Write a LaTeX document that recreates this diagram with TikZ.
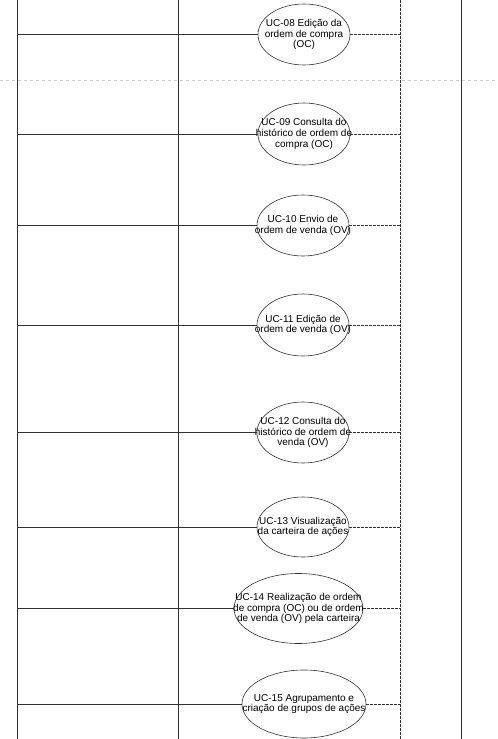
\documentclass[tikz,border=0pt]{standalone}
\usepackage{fontspec}
\setmainfont{Liberation Sans}
\usepackage{tikz}
\usetikzlibrary{shapes,positioning,arrows}
\tikzstyle{usecase} = [ellipse, draw=black!80, fill=white, line width=0.6pt, inner sep=0pt]
\tikzstyle{caption} = [align=center, inner sep=0pt, font=\fontsize{10}{10.7}\selectfont]
\tikzstyle{link} = [black!80, line width=0.7pt]
\tikzstyle{dep} = [black!80, line width=0.7pt, dash pattern=on 2.5pt off 1.5pt]
\tikzstyle{lane} = [black!80, line width=0.7pt]
\newcommand{\drawCase}[6]{
  \def\actorX{17.5};
  \def\depX{400};
  \node[usecase, minimum width=#4, minimum height=#5,
        label={[caption]center:#6}] (#1) at (#2,#3) {};
  % actor side
  \coordinate (#1l) at (\actorX,#3);
  \draw[link] (#1l) -- (#1.west);
  % dependency side
  \coordinate (#1r) at (\depX,#3);
  \draw[dep] (#1.east) -- (#1r);
}

\begin{document}
\begin{tikzpicture}[x=1pt,y=-1pt]
      \useasboundingbox (0,0) rectangle (498,739);
      % page break
      \coordinate (pageL) at (0,80);
      \coordinate (pageR) at (498,80);
      \draw[black!20, line width=0.7pt, dash pattern=on 3pt off 3pt] (pageL) -- (pageR);

      % lanes
      \coordinate (actorTop) at (17.5,0);
      \coordinate (actorBot) at (17.5,739);
      \coordinate (sysTop) at (178,0);
      \coordinate (sysBot) at (178,739);
      \coordinate (depTop) at (400,0);
      \coordinate (depBot) at (400,739);
      \coordinate (extTop) at (461.5,0);
      \coordinate (extBot) at (461.5,739);
      \draw[lane] (actorTop) -- (actorBot);
      \draw[lane] (sysTop) -- (sysBot);
      \draw[dep] (depTop) -- (depBot);
      \draw[lane] (extTop) -- (extBot);

      \drawCase{uc08}{304}{34.5}{92pt}{61pt}{UC-08 Edição da\\ordem de compra\\(OC)}
      \drawCase{uc09}{304}{134}{92pt}{62pt}{UC-09 Consulta do\\histórico de ordem de\\compra (OC)}
      \drawCase{uc10}{303}{225.5}{92pt}{61pt}{UC-10 Envio de\\ordem de venda (OV)}
      \drawCase{uc11}{303}{325}{92pt}{62pt}{UC-11 Edição de\\ordem de venda (OV)}
      \drawCase{uc12}{303}{432.5}{92pt}{61pt}{UC-12 Consulta do\\histórico de ordem de\\venda (OV)}
      \drawCase{uc13}{303}{527}{92pt}{60pt}{UC-13 Visualização\\da carteira de ações}
      \drawCase{uc14}{298.5}{608.5}{129pt}{70pt}{UC-14 Realização de ordem\\de compra (OC) ou de ordem\\de venda (OV) pela carteira}
      \drawCase{uc15}{304}{704}{124pt}{68pt}{UC-15 Agrupamento e\\criação de grupos de ações}
    \end{tikzpicture}
\end{document}
